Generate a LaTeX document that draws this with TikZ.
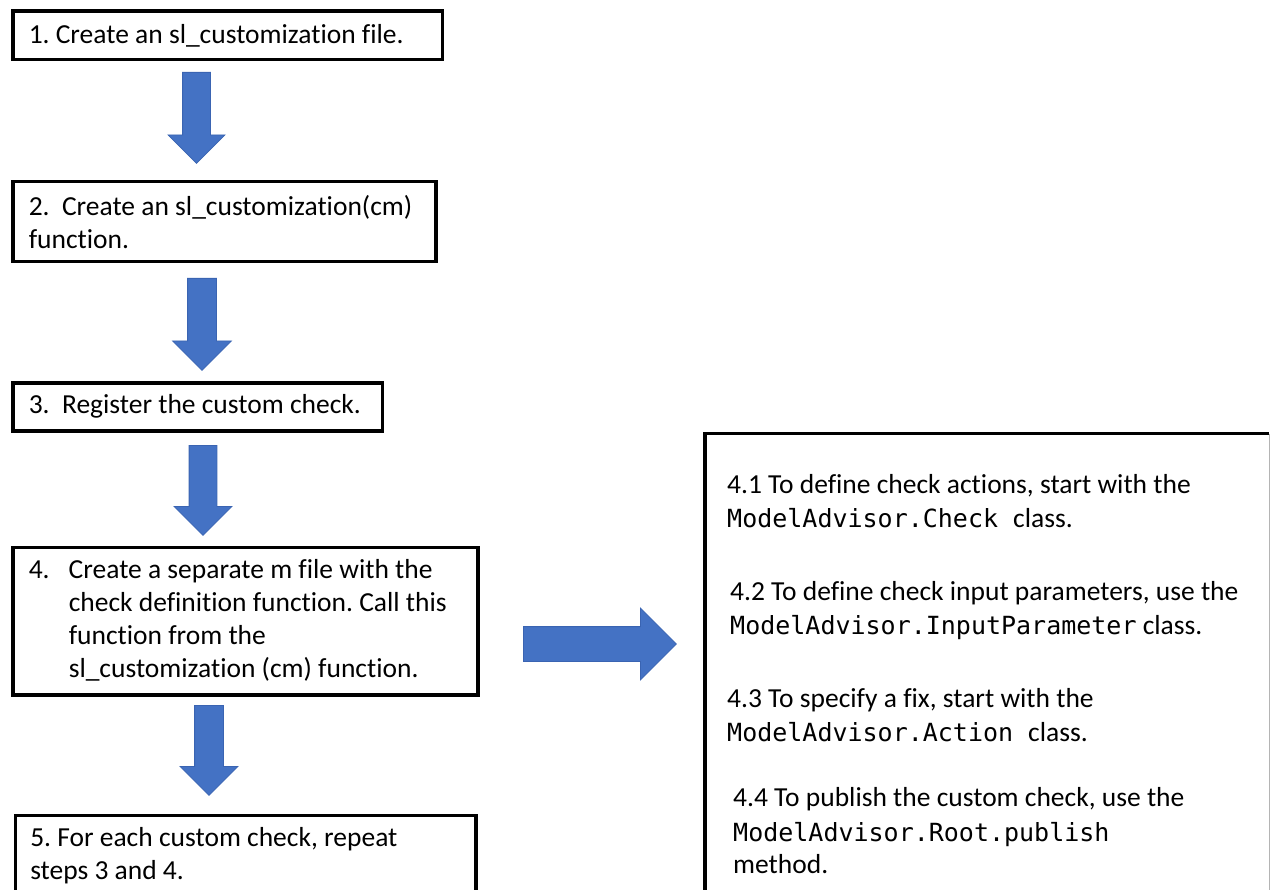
\documentclass[tikz,border=0pt]{standalone}
\usepackage{fontspec}
\setmainfont{Carlito}[Ligatures=NoCommon]
\newfontfamily\codefont{DejaVu Sans Mono}
\usetikzlibrary{shapes.arrows}
\definecolor{ArrowBlue}{HTML}{4472C4}
\definecolor{ArrowEdge}{HTML}{3A64B2}
\definecolor{EdgeGray}{HTML}{B4B4B4}
\newcommand{\code}[1]{{\codefont\fontsize{25}{34}\selectfont #1}}
\frenchspacing

\begin{document}
\begin{tikzpicture}[x=1pt,y=-1pt,
    stepbox/.style={draw=black,line width=3.5pt,anchor=north west,align=flush left,inner xsep=16pt,inner ysep=4pt,font=\fontsize{27.5}{33}\selectfont},
    blockarrow/.style={single arrow,fill=ArrowBlue,draw=ArrowEdge,line width=0.8pt,inner sep=14pt,single arrow head indent=0pt,anchor=tail},
    downarrow/.style={blockarrow,shape border rotate=270,minimum width=57pt,single arrow head extend=15pt,minimum height=90pt},
    subline/.style={anchor=west,inner sep=0pt,font=\fontsize{27.5}{34}\selectfont}]
  \fill[white] (0,0) rectangle (1271,890);
  \clip (0,0) rectangle (1271,890);

  \node[stepbox,text width=397.5pt,minimum height=48.5pt] (s1) at (11,9.5) {1. Create an sl\_customization file.};
  \node[stepbox,text width=391pt,minimum height=80pt] (s2) at (11,180) {2.\ \ Create an sl\_customization(cm)\\function.};
  \node[stepbox,text width=337.5pt,minimum height=48pt] (s3) at (11,381) {3.\ \ Register the custom check.};
  \node[stepbox,text width=433pt,minimum height=147.5pt] (s4) at (11,545.5) {\begin{tabular}{@{}p{40pt}@{}l@{}}
      4. & Create a separate m file with the\\
         & check definition function. Call this\\
         & function from the\\
         & sl\_customization (cm) function.
    \end{tabular}};
  \node[stepbox,text width=430.5pt,inner xsep=15pt,inner ysep=12pt] (s5) at (13.5,813.5) {5. For each custom check, repeat\\steps 3 and 4.\\\strut};

  \node[downarrow,minimum height=91pt,minimum width=56pt,inner sep=13.5pt,single arrow head extend=14.5pt] (a12) at (196.5,72) {};
  \node[downarrow,minimum height=92pt,minimum width=58pt] (a23) at (202,278) {};
  \node[downarrow,minimum width=57pt,inner sep=13.5pt,single arrow head extend=15pt] (a34) at (203,445) {};
  \node[downarrow,minimum width=57pt,single arrow head extend=14.5pt] (a45) at (209,705) {};
  \node[blockarrow,minimum height=153pt,minimum width=71pt,inner sep=17pt,single arrow head extend=18.5pt] (a4sub) at (523,644) {};

  \node[minimum width=564pt,minimum height=480pt,anchor=north west,inner sep=0pt] (sub) at (705,433.5) {};
  \draw[line width=3.5pt] (sub.south west) -- (sub.north west) -- (sub.north east);
  \draw[EdgeGray,line width=1pt] (sub.north east) -- (sub.south east);

  \node[subline] (p41a) at (727,487) {\strut 4.1 To define check actions, start with the};
  \node[subline] (p41b) at (727,521) {\strut\code{ModelAdvisor.Check\ }class.};
  \node[subline] (p42a) at (730,594) {\strut 4.2 To define check input parameters, use the};
  \node[subline] (p42b) at (730,628) {\strut\code{ModelAdvisor.InputParameter} class.};
  \node[subline] (p43a) at (727,701) {\strut 4.3 To specify a fix, start with the};
  \node[subline] (p43b) at (727,735) {\strut\code{ModelAdvisor.Action\ }class.};
  \node[subline] (p44a) at (733,800) {\strut 4.4 To publish the custom check, use the};
  \node[subline] (p44b) at (733,835) {\strut\code{ModelAdvisor.Root.publish}};
  \node[subline] (p44c) at (733,867) {\strut method.};
\end{tikzpicture}
\end{document}
